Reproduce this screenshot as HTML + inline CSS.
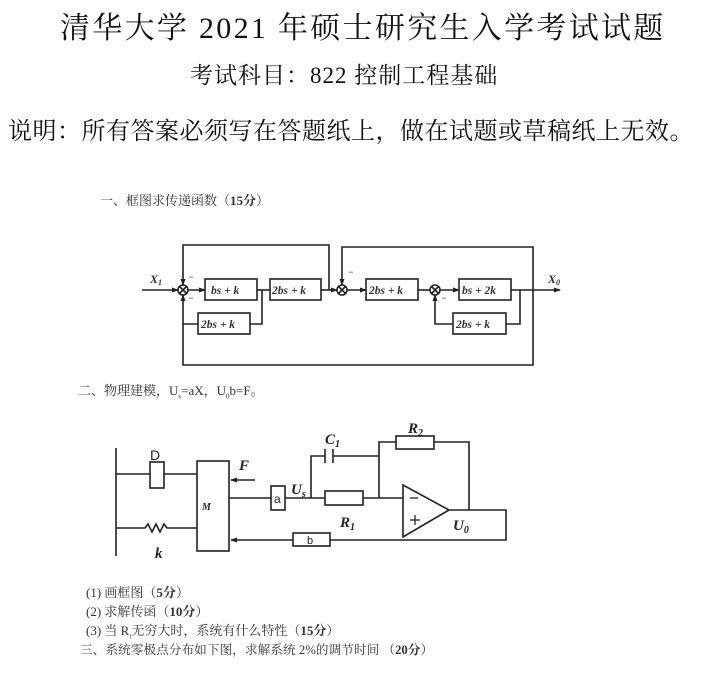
<!DOCTYPE html>
<html><head><meta charset="utf-8"><style>
body{margin:0;width:720px;height:675px;background:#fff;position:relative;overflow:hidden;font-family:"Liberation Serif","Noto Serif CJK SC",serif;color:#111}
.t{position:absolute;white-space:nowrap}
.s{font-size:13px;color:#333}
svg{position:absolute;left:0;top:0}
svg text{font-family:"Liberation Serif",serif;font-style:italic;font-weight:bold}
</style></head><body>
<div class="t" style="left:60px;top:3px;font-size:30px;letter-spacing:2.3px">清华大学 2021 年硕士研究生入学考试试题</div>
<div class="t" style="left:190px;top:57px;font-size:23px;letter-spacing:1px">考试科目：822 控制工程基础</div>
<div class="t" style="left:8px;top:111px;font-size:24px;letter-spacing:0.5px">说明：所有答案必须写在答题纸上，做在试题或草稿纸上无效。</div>
<div class="t s" style="left:100px;top:190px">一、框图求传递函数（<b>15分</b>）</div>
<div class="t s" style="left:78px;top:380px">二、物理建模，U<sub style="font-size:7px">s</sub>=aX，U<sub style="font-size:7px">0</sub>b=F。</div>
<div class="t s" style="left:86px;top:582px">(1) 画框图（<b>5分</b>）</div>
<div class="t s" style="left:86px;top:601px">(2) 求解传函（<b>10分</b>）</div>
<div class="t s" style="left:86px;top:620px">(3) 当 R<sub style="font-size:6px">f</sub>无穷大时，系统有什么特性（<b>15分</b>）</div>
<div class="t s" style="left:80px;top:639px;font-size:12.7px">三、系统零极点分布如下图，求解系统 2%的调节时间 （<b>20分</b>）</div>
<svg width="720" height="675" viewBox="0 0 720 675">
<defs><marker id="a" markerUnits="userSpaceOnUse" markerWidth="7" markerHeight="6" refX="6" refY="3" orient="auto"><path d="M0,0.5 L7,3 L0,5.5z" fill="#222"/></marker></defs>
<g stroke="#222" stroke-width="1.6" fill="none">
<line x1="142" y1="290" x2="178" y2="290" marker-end="url(#a)"/>
<circle cx="183" cy="290" r="5"/><path d="M179.5,286.5l7,7M186.5,286.5l-7,7"/>
<circle cx="342" cy="290" r="5"/><path d="M338.5,286.5l7,7M345.5,286.5l-7,7"/>
<circle cx="435" cy="290" r="5"/><path d="M431.5,286.5l7,7M438.5,286.5l-7,7"/>
<rect x="205" y="279" width="52" height="21"/>
<rect x="270" y="279" width="51" height="21"/>
<rect x="366" y="279" width="52" height="21"/>
<rect x="459" y="279" width="52" height="21"/>
<rect x="198" y="313" width="52" height="21"/>
<rect x="453" y="313" width="53" height="21"/>
<line x1="188" y1="290" x2="205" y2="290" marker-end="url(#a)"/>
<line x1="257" y1="290" x2="270" y2="290"/>
<line x1="321" y1="290" x2="337" y2="290" marker-end="url(#a)"/>
<line x1="347" y1="290" x2="366" y2="290" marker-end="url(#a)"/>
<line x1="418" y1="290" x2="430" y2="290"/>
<line x1="440" y1="290" x2="459" y2="290" marker-end="url(#a)"/>
<line x1="511" y1="290" x2="560" y2="290" marker-end="url(#a)"/>
<polyline points="262,290 262,324 250,324"/>
<polyline points="198,324 183,324 183,295" marker-end="url(#a)"/>
<polyline points="520,290 520,324 506,324"/>
<polyline points="453,324 435,324 435,295" marker-end="url(#a)"/>
<polyline points="329,290 329,245 183,245 183,285" marker-end="url(#a)"/>
<polyline points="533,290 533,247 342,247 342,285" marker-end="url(#a)"/>
<polyline points="533,290 533,365 183,365 183,324"/>
<line x1="116" y1="448" x2="116" y2="556"/>
<line x1="116" y1="474" x2="197" y2="474"/>
<rect x="150" y="462" width="14" height="26" fill="#fff"/>
<polyline points="116,528 145,528 148,524 152,532 156,524 160,532 164,524 167,528 197,528"/>
<rect x="197" y="461" width="32" height="90"/>
<line x1="255" y1="480" x2="231" y2="480" marker-end="url(#a)"/>
<line x1="229" y1="498" x2="271" y2="498"/>
<rect x="271" y="486" width="14" height="24"/>
<line x1="285" y1="498" x2="325" y2="498"/>
<rect x="325" y="491" width="38" height="14"/>
<line x1="363" y1="498" x2="403" y2="498"/>
<polyline points="311,498 311,456 325,456"/>
<line x1="325" y1="449" x2="325" y2="463"/><line x1="333" y1="449" x2="333" y2="463"/>
<line x1="333" y1="456" x2="379" y2="456"/>
<polyline points="379,498 379,442 396,442"/>
<rect x="396" y="436" width="38" height="13"/>
<polyline points="434,442 469,442 469,510"/>
<polygon points="403,485 403,537 449,510"/>
<polyline points="449,510 506,510 506,540 330,540"/>
<rect x="293" y="533" width="37" height="13"/>
<line x1="293" y1="540" x2="231" y2="540" marker-end="url(#a)"/>
</g>
<g stroke="#222" stroke-width="1.3"><line x1="410" y1="498" x2="418" y2="498"/><line x1="410" y1="520" x2="420" y2="520"/><line x1="415" y1="515" x2="415" y2="525"/></g>
<g font-size="11.5" fill="#333">
<text x="211" y="294">bs + k</text><text x="272" y="294">2bs + k</text><text x="369" y="294">2bs + k</text><text x="462" y="294">bs + 2k</text>
<text x="201" y="328">2bs + k</text><text x="456" y="328">2bs + k</text>
<text x="150" y="283" font-size="12">X<tspan font-size="8" dy="2">1</tspan></text>
<text x="548" y="283" font-size="12">X<tspan font-size="8" dy="2">0</tspan></text>
<text x="188" y="280" font-size="9">−</text><text x="188" y="301" font-size="9">−</text>
<text x="348" y="275" font-size="9">−</text><text x="441" y="301" font-size="9">−</text>
</g>
<g font-size="15" fill="#222">
<text x="239" y="470">F</text><text x="202" y="510" font-size="10">M</text>
<text x="155" y="558">k</text><text x="291" y="494">U<tspan font-size="10" dy="3">s</tspan></text>
<text x="340" y="527">R<tspan font-size="10" dy="3">1</tspan></text>
<text x="325" y="444">C<tspan font-size="10" dy="3">1</tspan></text>
<text x="408" y="433">R<tspan font-size="10" dy="3">2</tspan></text>
<text x="453" y="530">U<tspan font-size="10" dy="3">0</tspan></text>
</g>
<g fill="#222"><text x="150" y="460" font-size="14" style="font-style:normal;font-weight:normal;font-family:'Liberation Sans'">D</text>
<text x="274" y="503" font-size="12" style="font-style:normal;font-weight:normal;font-family:'Liberation Sans'">a</text>
<text x="307" y="544" font-size="11" style="font-style:normal;font-weight:normal;font-family:'Liberation Sans'">b</text></g>
</svg>
</body></html>
